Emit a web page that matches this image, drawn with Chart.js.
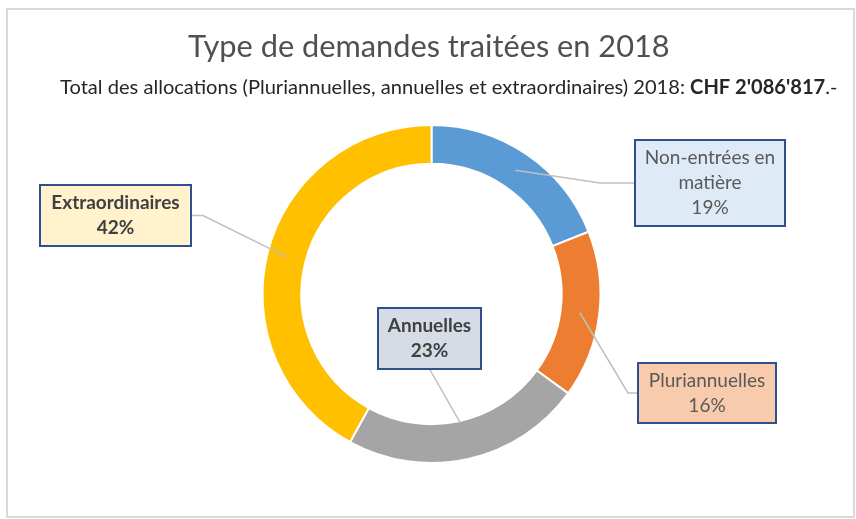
<!DOCTYPE html>
<html>
<head>
<meta charset="utf-8">
<script src="https://cdn.jsdelivr.net/npm/chart.js@4/dist/chart.umd.min.js"></script>
<style>
  html, body { margin: 0; padding: 0; background: #fff; }
  #wrap { width: 856px; height: 519px; }
</style>
</head>
<body>
<div id="wrap"><canvas id="donut" width="856" height="519"></canvas></div>
<script>
// données du graphique
var categories = ['Non-entrées en matière', 'Pluriannuelles', 'Annuelles', 'Extraordinaires'];
var shares = [19, 16, 23, 42];
var labelLines = [['Non-entrées en', 'matière'], ['Pluriannuelles'], ['Annuelles'], ['Extraordinaires']];
var sliceColors = ['#5B9BD5', '#ED7D31', '#A5A5A5', '#FFC000'];

var titleText = 'Type de demandes traitées en 2018';
var subtitleText = 'Total des allocations (Pluriannuelles, annuelles et extraordinaires) 2018: ';
var subtitleAmount = "CHF 2'086'817";
var subtitleEnd = '.-';

// position des étiquettes (mise en page)
var boxes = [
  { x: 635, y: 140, w: 150, h: 86, fill: '#DEEBF7', bold: false, side: 'left', elbow: 600, rFrac: 0.5 },
  { x: 638, y: 363, w: 138, h: 60, fill: '#F8CBAD', bold: false, side: 'left', elbow: 628, rFrac: 0.5 },
  { x: 378, y: 308, w: 103, h: 61, fill: '#D6DCE5', bold: true, side: 'bottom', elbow: null, rFrac: 0.05 },
  { x: 40, y: 185, w: 151, h: 61, fill: '#FFF2CC', bold: true, side: 'right', elbow: 203, rFrac: 0.5 }
];

var FONT = 'Lato, "Open Sans", sans-serif';

var labelPlugin = {
  id: 'labelPlugin',
  afterDraw: function(chart) {
    var ctx = chart.ctx;
    ctx.save();

    // cadre
    ctx.strokeStyle = '#D9D9D9';
    ctx.lineWidth = 2;
    ctx.strokeRect(7, 9, 847, 508);

    // titre (taille ajustée à la largeur de la référence)
    ctx.fillStyle = '#505050';
    ctx.textAlign = 'left';
    ctx.textBaseline = 'middle';
    ctx.font = '30px ' + FONT;
    var tw = ctx.measureText(titleText).width;
    var ts = 30 * 482 / tw;
    ctx.font = ts + 'px ' + FONT;
    ctx.fillText(titleText, 188, 47);

    // sous-titre avec montant en gras
    ctx.fillStyle = '#262626';
    var size = 19;
    var fN = size + 'px ' + FONT, fB = 'bold ' + size + 'px ' + FONT;
    ctx.font = fN; var w1 = ctx.measureText(subtitleText).width;
    ctx.font = fB; var w2 = ctx.measureText(subtitleAmount).width;
    ctx.font = fN; var w3 = ctx.measureText(subtitleEnd).width;
    size = size * 778 / (w1 + w2 + w3);
    fN = size + 'px ' + FONT; fB = 'bold ' + size + 'px ' + FONT;
    ctx.font = fN; w1 = ctx.measureText(subtitleText).width;
    ctx.font = fB; w2 = ctx.measureText(subtitleAmount).width;
    var sx = 60;
    ctx.font = fN; ctx.fillText(subtitleText, sx, 88);
    ctx.font = fB; ctx.fillText(subtitleAmount, sx + w1, 88);
    ctx.font = fN; ctx.fillText(subtitleEnd, sx + w1 + w2, 88);

    var meta = chart.getDatasetMeta(0);
    meta.data.forEach(function(arc, i) {
      var b = boxes[i];
      var p = arc.getProps(['x', 'y', 'startAngle', 'endAngle', 'innerRadius', 'outerRadius'], true);
      var mid = (p.startAngle + p.endAngle) / 2;
      var r = p.innerRadius + (p.outerRadius - p.innerRadius) * b.rFrac;
      var ax = p.x + Math.cos(mid) * r;
      var ay = p.y + Math.sin(mid) * r;

      // trait de rappel
      ctx.strokeStyle = '#BFBFBF';
      ctx.lineWidth = 1.5;
      ctx.beginPath();
      if (b.side === 'left') {
        ctx.moveTo(b.x, b.y + b.h / 2);
        ctx.lineTo(b.elbow, b.y + b.h / 2);
      } else if (b.side === 'right') {
        ctx.moveTo(b.x + b.w, b.y + b.h / 2);
        ctx.lineTo(b.elbow, b.y + b.h / 2);
      } else {
        ctx.moveTo(b.x + b.w / 2, b.y + b.h);
      }
      ctx.lineTo(ax, ay);
      ctx.stroke();

      // boîte
      ctx.fillStyle = b.fill;
      ctx.fillRect(b.x, b.y, b.w, b.h);
      ctx.strokeStyle = '#2F4F8F';
      ctx.lineWidth = 2;
      ctx.strokeRect(b.x, b.y, b.w, b.h);

      // texte
      var lines = labelLines[i].concat([shares[i] + '%']);
      ctx.font = (b.bold ? 'bold ' : '') + '19px ' + FONT;
      ctx.fillStyle = b.bold ? '#404040' : '#595959';
      ctx.textAlign = 'center';
      ctx.textBaseline = 'middle';
      var cy = b.y + b.h / 2 - (lines.length - 1) * 25 / 2;
      lines.forEach(function(t, k) {
        ctx.fillText(t, b.x + b.w / 2, cy + k * 25);
      });
    });
    ctx.restore();
  }
};

var ctxDonut = document.getElementById('donut').getContext('2d');
var donut = new Chart(ctxDonut, {
  type: 'doughnut',
  data: {
    labels: categories,
    datasets: [{
      data: shares,
      backgroundColor: sliceColors,
      borderColor: '#ffffff',
      borderWidth: 2
    }]
  },
  options: {
    responsive: false,
    animation: false,
    cutout: '77%',
    layout: { padding: { top: 124, bottom: 55, left: 7, right: 0 } },
    plugins: {
      legend: { display: false },
      tooltip: { enabled: false },
      title: { display: false }
    }
  },
  plugins: [labelPlugin]
});
</script>
</body>
</html>
